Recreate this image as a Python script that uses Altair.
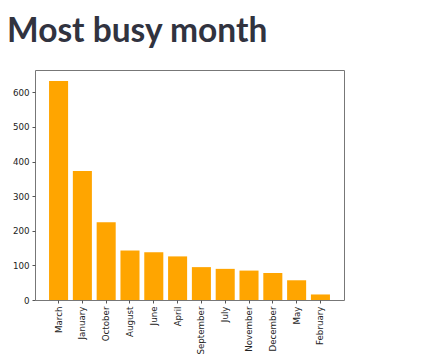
import altair as alt
import pandas as pd

months = ["March", "January", "October", "August", "June", "April",
          "September", "July", "November", "December", "May", "February"]
counts = [633, 373, 225, 143, 138, 126, 95, 90, 85, 78, 57, 16]

df = pd.DataFrame({"month": months, "count": counts})
ymax = max(counts) * 1.05

chart = alt.Chart(df).mark_bar(color="#FFA500").encode(
    x=alt.X("month:N", sort=months,
            scale=alt.Scale(paddingInner=0.2, paddingOuter=0.59),
            axis=alt.Axis(title=None, labelAngle=270, labelFontSize=8.7,
                          labelFont="DejaVu Sans", labelColor="#222222",
                          tickSize=3, labelPadding=3, tickColor="#555555",
                          domain=False, grid=False)),
    y=alt.Y("count:Q", scale=alt.Scale(domain=[0, ymax], nice=False, zero=True),
            axis=alt.Axis(title=None, values=[0, 100, 200, 300, 400, 500, 600],
                          labelFontSize=8.7, labelFont="DejaVu Sans",
                          labelColor="#222222", tickSize=3, labelPadding=3,
                          tickColor="#555555", domain=False, grid=False)),
).properties(
    width=309, height=230,
    title=alt.TitleParams("Most busy month", anchor="start", frame="group",
                          font="Lato", fontSize=33.5, fontWeight="bold",
                          color="#31333F", dx=-28, offset=21),
    autosize=alt.AutoSizeParams(type="none"),
    padding={"left": 27, "top": 62, "right": 40, "bottom": 62},
).configure_view(stroke="#777777", strokeWidth=1)

chart.save("out.html", embed_options={"renderer": "svg", "actions": False})
